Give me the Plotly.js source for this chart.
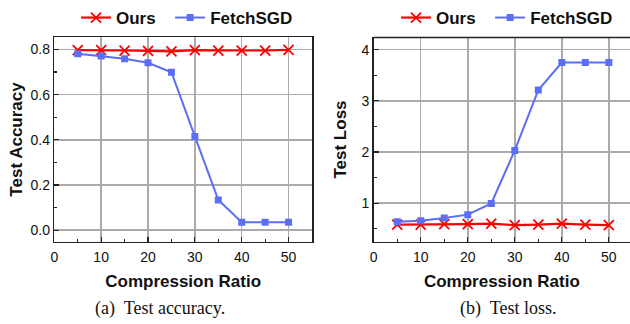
<!DOCTYPE html>
<html><head><meta charset="utf-8">
<script src="https://cdn.plot.ly/plotly-3.0.1.min.js"></script>
<style>html,body{margin:0;padding:0;background:#fff}#chart{width:630px;height:324px}</style>
</head><body><div id="chart"></div>
<script>
const ratios = [5, 10, 15, 20, 25, 30, 35, 40, 45, 50];
const accOurs = [0.797, 0.797, 0.795, 0.793, 0.791, 0.797, 0.795, 0.795, 0.795, 0.798];
const accFetch = [0.781, 0.771, 0.759, 0.741, 0.699, 0.415, 0.134, 0.035, 0.035, 0.035];
const lossOurs = [0.58, 0.58, 0.59, 0.59, 0.60, 0.57, 0.58, 0.60, 0.58, 0.57];
const lossFetch = [0.636, 0.655, 0.71, 0.776, 0.994, 2.03, 3.21, 3.75, 3.75, 3.75];
const xTicks = [0, 10, 20, 30, 40, 50];
const accTicks = [0.0, 0.2, 0.4, 0.6, 0.8];
const lossTicks = [1, 2, 3, 4];

const RED = '#ff0000', BLUE = '#5b6ff6';
const oursStyle = {mode: 'lines+markers', line: {color: RED, width: 2.2},
  marker: {symbol: 'x-thin', size: 10, color: RED, line: {color: RED, width: 1.8}}};
const fetchStyle = {mode: 'lines+markers', line: {color: BLUE, width: 2},
  marker: {symbol: 'square', size: 7, color: BLUE}};

const traces = [
  Object.assign({x: ratios, y: accOurs, name: 'Ours\u00a0\u00a0', xaxis: 'x', yaxis: 'y', legend: 'legend'}, oursStyle),
  Object.assign({x: ratios, y: accFetch, name: 'FetchSGD', xaxis: 'x', yaxis: 'y', legend: 'legend'}, fetchStyle),
  Object.assign({x: ratios, y: lossOurs, name: 'Ours\u00a0\u00a0', xaxis: 'x2', yaxis: 'y2', legend: 'legend2'}, oursStyle),
  Object.assign({x: ratios, y: lossFetch, name: 'FetchSGD', xaxis: 'x2', yaxis: 'y2', legend: 'legend2'}, fetchStyle)
];

const tickFont = {family: 'Liberation Sans, Arial, sans-serif', size: 14, color: '#111'};
const titleFont = {family: 'Liberation Sans, Arial, sans-serif', size: 17, color: '#111', weight: 'bold'};
const legendFont = {family: 'Liberation Sans, Arial, sans-serif', size: 17, color: '#111', weight: 'bold'};
const gridColor = '#ababab';
function xax(domain, range, mirror) {
  return {domain: domain, range: range, tickvals: xTicks, ticks: 'inside', ticklen: 5, tickwidth: 1.2,
    tickcolor: '#222', showline: true, linecolor: '#222', linewidth: 1.5, mirror: mirror,
    showgrid: true, gridcolor: gridColor, gridwidth: 1.5, zeroline: false, tickfont: tickFont,
    ticklabelstandoff: 2,
    minor: {dtick: 5, tick0: 5, ticks: 'inside', ticklen: 3, tickcolor: '#222', showgrid: false},
    title: {text: 'Compression Ratio', font: titleFont, standoff: 11}};
}
function yax(domain, range, ticks, fmt, minorDtick, minorTick0, mirror, anchor) {
  return {domain: domain, range: range, tickvals: ticks, tickformat: fmt, ticks: 'inside', ticklen: 5,
    tickwidth: 1.2, tickcolor: '#222', showline: true, linecolor: '#222', linewidth: 1.5, mirror: mirror,
    showgrid: true, gridcolor: gridColor, gridwidth: 1.5, zeroline: false, tickfont: tickFont, anchor: anchor,
    minor: {dtick: minorDtick, tick0: minorTick0, ticks: 'inside', ticklen: 3, tickcolor: '#222', showgrid: false}};
}
const yDom = [(324 - 240) / 324, (324 - 32) / 324];
const layout = {
  width: 630, height: 324, margin: {l: 0, r: 0, t: 0, b: 0},
  paper_bgcolor: '#fff', plot_bgcolor: '#fff',
  font: {family: 'Liberation Sans, Arial, sans-serif'},
  xaxis: xax([54.3 / 630, 312 / 630], [0, 55], true),
  yaxis: Object.assign(yax(yDom, [-0.05, 0.853], accTicks, '.1f', 0.2, 0.1, true, 'x'),
    {title: {text: 'Test Accuracy', font: titleFont, standoff: 3}}),
  xaxis2: Object.assign(xax([373.7 / 630, 1], [0, 54.5], false), {anchor: 'y2'}),
  yaxis2: Object.assign(yax(yDom, [0.25, 4.24], lossTicks, '', 1, 0.5, false, 'x2'),
    {title: {text: 'Test Loss', font: titleFont, standoff: 10}}),
  shapes: [{type: 'line', xref: 'x2 domain', yref: 'y2 domain', x0: 0, x1: 1, y0: 1, y1: 1,
    line: {color: '#222', width: 1.5}}],
  showlegend: true,
  legend: {orientation: 'h', x: 76 / 630, y: 1.02, xanchor: 'left', yanchor: 'top',
    font: legendFont, bgcolor: 'rgba(0,0,0,0)', itemwidth: 30, tracegroupgap: 0},
  legend2: {orientation: 'h', x: 396 / 630, y: 1.02, xanchor: 'left', yanchor: 'top',
    font: legendFont, bgcolor: 'rgba(0,0,0,0)', itemwidth: 30, tracegroupgap: 0},
  annotations: [
    {text: '(a)  Test accuracy.', xref: 'paper', yref: 'paper', x: 160 / 630, y: (324 - 308) / 324,
      xanchor: 'center', yanchor: 'middle', showarrow: false,
      font: {family: 'Liberation Serif, Times New Roman, serif', size: 18, color: '#111'}},
    {text: '(b)  Test loss.', xref: 'paper', yref: 'paper', x: 508 / 630, y: (324 - 308) / 324,
      xanchor: 'center', yanchor: 'middle', showarrow: false,
      font: {family: 'Liberation Serif, Times New Roman, serif', size: 18, color: '#111'}}
  ]
};
Plotly.newPlot('chart', traces, layout, {displayModeBar: false, staticPlot: true});
</script></body></html>
